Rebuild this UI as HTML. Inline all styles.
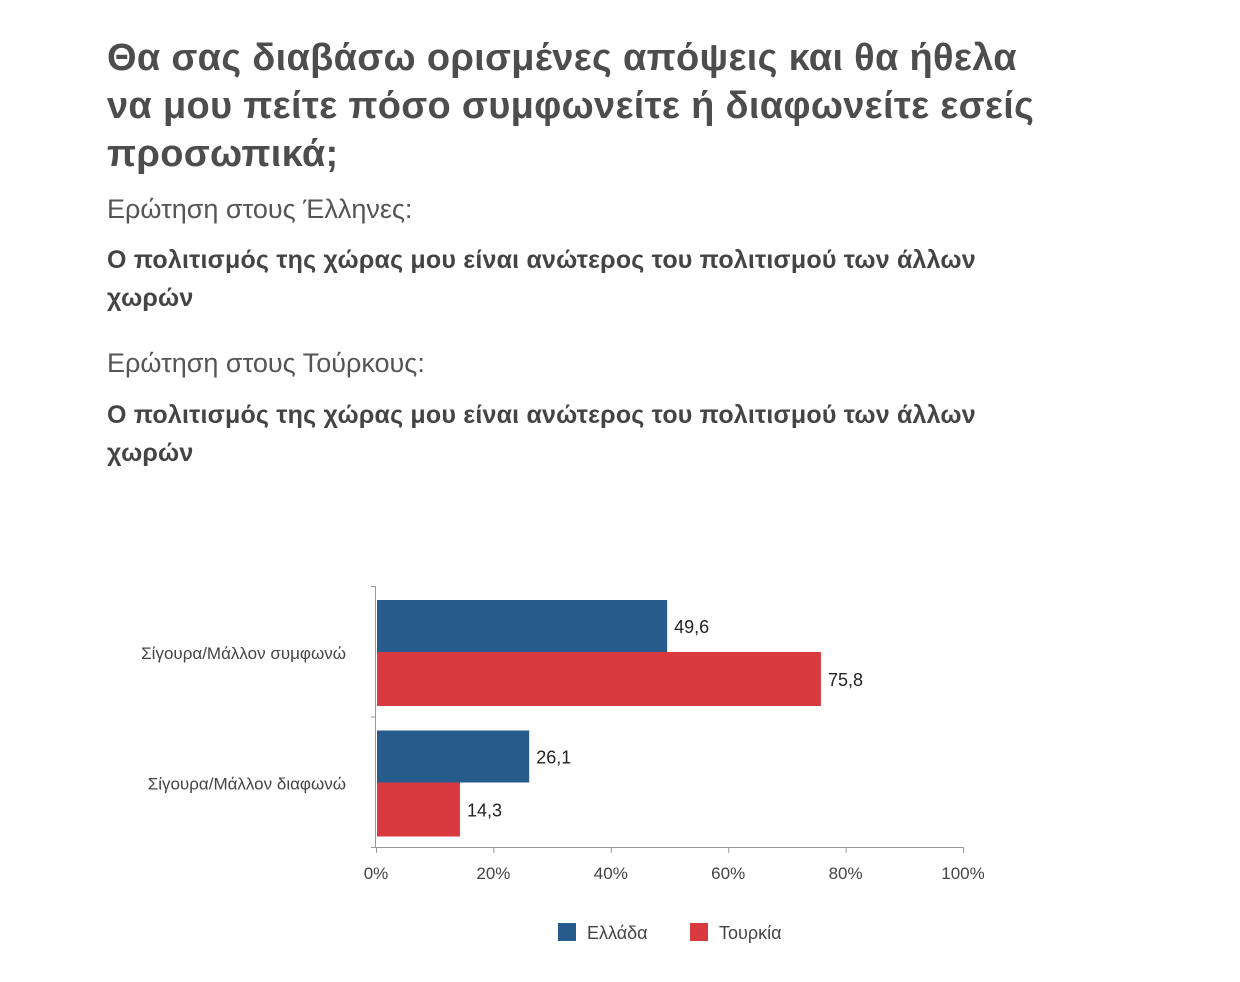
<!DOCTYPE html>
<html><head><meta charset="utf-8"><style>
body{margin:0;width:1240px;height:982px;background:#fff;font-family:"Liberation Sans","DejaVu Sans",sans-serif;color:#4a4a4a;position:relative;overflow:hidden}
.t{position:absolute;left:107px;margin:0}
h1{font-size:38px;font-weight:bold;line-height:48px;top:34px;letter-spacing:0.3px;color:#4d4d4d}
.q{font-size:27px;color:#555}
.s{font-size:25px;font-weight:bold;line-height:38px;color:#444;letter-spacing:0.2px}
</style></head><body>
<h1 class="t">Θα σας διαβάσω ορισμένες απόψεις και θα ήθελα<br>να μου πείτε πόσο συμφωνείτε ή διαφωνείτε εσείς<br>προσωπικά;</h1>
<p class="t q" style="top:194px">Ερώτηση στους Έλληνες:</p>
<p class="t s" style="top:241px">Ο πολιτισμός της χώρας μου είναι ανώτερος του πολιτισμού των άλλων<br>χωρών</p>
<p class="t q" style="top:348px">Ερώτηση στους Τούρκους:</p>
<p class="t s" style="top:396px">Ο πολιτισμός της χώρας μου είναι ανώτερος του πολιτισμού των άλλων<br>χωρών</p>
<svg id="c" width="1240" height="982" style="position:absolute;left:0;top:0"></svg>
<script>
const categories=["Σίγουρα/Μάλλον συμφωνώ","Σίγουρα/Μάλλον διαφωνώ"];
const greece=[49.6,26.1];
const turkey=[75.8,14.3];
const ticks=[0,20,40,60,80,100];
const seriesNames=["Ελλάδα","Τουρκία"];
const colors=["#265b8c","#d93a3f"];
const NS="http://www.w3.org/2000/svg";
const svg=document.getElementById('c');
const x0=376,x1=963,yTop=586,yBot=847;
const xs=v=>x0+(x1-x0)*v/100;
const band=(yBot-yTop)/categories.length;
function mk(t,a){const e=document.createElementNS(NS,t);for(const k in a)e.setAttribute(k,a[k]);svg.appendChild(e);return e;}
let e=mk('line',{x1:375.5,y1:yTop,x2:375.5,y2:yBot,stroke:'#999','stroke-width':1});


e=mk('line',{x1:375,y1:yBot+0.5,x2:x1+1,y2:yBot+0.5,stroke:'#999','stroke-width':1});


for(let i=0;i<=categories.length;i++){
 e=mk('line',{x1:371,x2:376,y1:yTop+i*band+0.5,y2:yTop+i*band+0.5,stroke:'#999'});
 
 
}
ticks.forEach(t=>{
 e=mk('line',{x1:xs(t)+0.5,x2:xs(t)+0.5,y1:yBot,y2:yBot+6,stroke:'#999'});
 
 
 e=mk('text',{x:xs(t),y:879,'text-anchor':'middle','font-size':17,fill:'#444'});
 e.textContent=t+'%';
 
 
});
const series=[greece,turkey];
categories.forEach((c,i)=>{
 const top=yTop+i*band+14;
 e=mk('text',{x:346,y:top+59,'text-anchor':'end','font-size':17,fill:'#444'});
 e.textContent=c;
 
 
 series.forEach((s,j)=>{
  const y=top+j*52,h=j==0?52:54;
  e=mk('rect',{x:377,y:y,width:xs(s[i])-377,height:h,fill:colors[j]});
  
  
  e=mk('text',{x:xs(s[i])+7,y:y+h/2+7,'font-size':18,fill:'#222'});
  e.textContent=String(s[i]).replace('.',',');
  
  
 });
});
const lx=[558,690];
seriesNames.forEach((n,j)=>{
 e=mk('rect',{x:lx[j],y:923,width:18,height:18,fill:colors[j]});
 
 
 e=mk('text',{x:lx[j]+29,y:939,'font-size':18,fill:'#444'});
 e.textContent=n;
 
 
});
</script>
</body></html>
